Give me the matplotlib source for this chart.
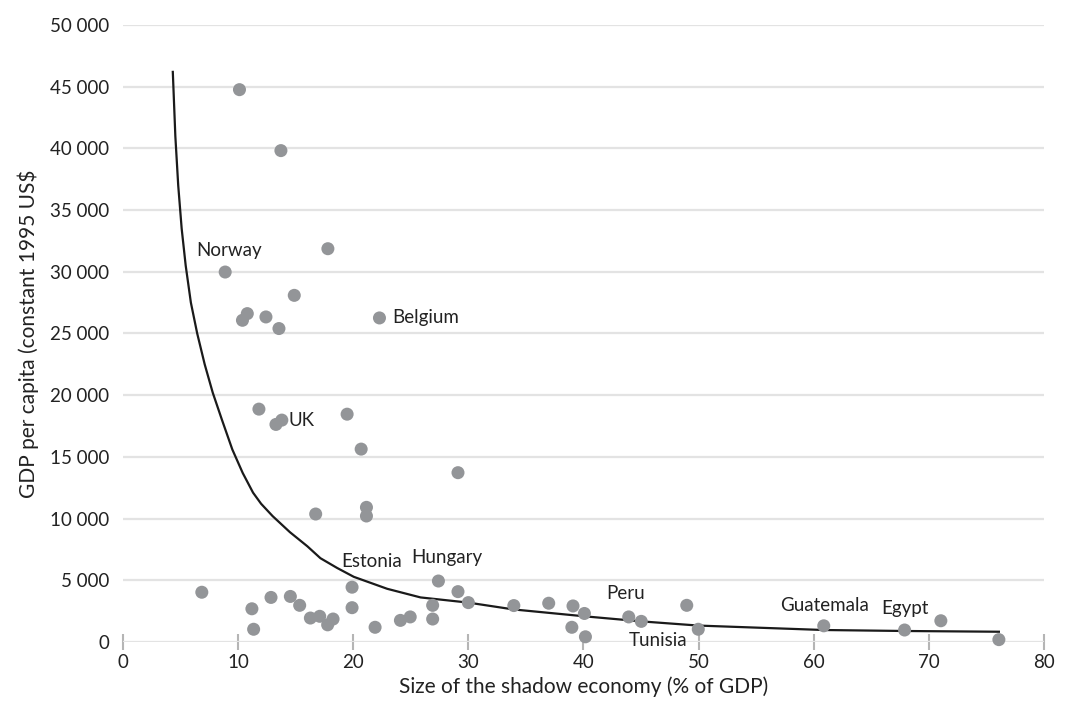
import matplotlib.pyplot as plt
from matplotlib.ticker import FuncFormatter

plt.rcParams['font.family'] = ['Lato', 'DejaVu Sans']

# shadow economy (% of GDP) and GDP per capita for every country
shadow = [6.85, 11.2, 11.35, 12.86, 14.54, 15.35, 16.28, 17.09, 17.78, 18.25,
          19.9, 19.9, 21.9, 24.1, 24.95, 27.4, 26.9, 26.9, 29.1, 30.0,
          33.95, 36.98, 39.09, 40.08, 38.99, 40.17, 43.93, 45.02, 48.97, 49.97,
          60.87, 67.89, 71.04, 76.08,
          10.12, 13.72, 17.8, 8.88, 14.88, 10.8, 10.38, 12.42, 13.55, 22.28,
          11.81, 13.8, 13.29, 19.47, 20.69, 16.74, 21.15, 21.15, 29.1]
gdp = [4030, 2690, 1030, 3610, 3690, 2970, 1940, 2080, 1390, 1860,
       4440, 2780, 1190, 1750, 2030, 4940, 2970, 1860, 4080, 3190,
       2950, 3140, 2920, 2310, 1190, 420, 2030, 1670, 2970, 1030,
       1310, 970, 1720, 190,
       44760, 39820, 31870, 29980, 28090, 26610, 26070, 26340, 25400, 26260,
       18870, 17980, 17630, 18460, 15630, 10370, 10910, 10210, 13720]

# fitted curve
curve_x = [4.33, 4.55, 4.80, 5.10, 5.45, 5.90, 6.45, 7.10, 7.80, 8.60,
           9.50, 10.40, 11.30, 12.00, 13.00, 14.50, 16.01, 17.15, 18.60,
           20.05, 22.95, 25.85, 30.0, 33.9, 40.08, 45.02, 49.97,
           60.87, 67.89, 76.08]
curve_y = [46200, 41000, 37000, 33500, 30500, 27500, 25000, 22500, 20200, 18000,
           15600, 13700, 12100, 11200, 10200, 8900, 7760, 6790, 6000,
           5280, 4310, 3610, 3190, 2640, 2080, 1670, 1330,
           970, 890, 830]

# labelled countries
labels = ['Norway', 'Belgium', 'UK', 'Estonia', 'Hungary', 'Peru', 'Tunisia', 'Guatemala', 'Egypt']
label_x = [9.25, 23.4, 14.4, 21.6, 28.1, 43.66, 46.5, 60.9, 67.9]
label_y = [31730, 26290, 17980, 6530, 6810, 3890, 150, 2920, 2690]
label_ha = ['center', 'left', 'left', 'center', 'center', 'center', 'center', 'center', 'center']

fig = plt.figure(figsize=(10.71, 7.04), dpi=100)
ax = fig.add_axes([0.1148, 0.0881, 0.86, 0.8764])

ax.set_xlim(0, 80)
ax.set_ylim(0, 50000)
ax.set_yticks(range(0, 50001, 5000))
ax.set_xticks(range(0, 81, 10))
ax.grid(axis='y', color='#e3e3e3', linewidth=1.6, zorder=0)
ax.set_axisbelow(True)
for s in ax.spines.values():
    s.set_visible(False)

ax.yaxis.set_major_formatter(FuncFormatter(lambda v, p: f'{int(v):,}'.replace(',', ' ')))
ax.tick_params(axis='y', length=0, pad=10, labelsize=13.5, labelcolor='#222222')
ax.tick_params(axis='x', direction='inout', length=11, width=1.5, color='#b5b5b5',
               pad=3, labelsize=13.5, labelcolor='#222222')

ax.scatter(shadow, gdp, s=88, color='#939598', edgecolors='none', zorder=3, clip_on=False)
ax.plot(curve_x, curve_y, color='#1a1a1a', linewidth=1.6, zorder=2)

for name, x, y, ha in zip(labels, label_x, label_y, label_ha):
    ax.text(x, y, name, ha=ha, va='center', fontsize=13.5, color='#222222', zorder=4)

ax.set_xlabel('Size of the shadow economy (% of GDP)', fontsize=15, color='#222222', labelpad=4)
ax.set_ylabel('GDP per capita (constant 1995 US$', fontsize=15, color='#222222', labelpad=8)

fig.savefig('out.png', dpi=100)
